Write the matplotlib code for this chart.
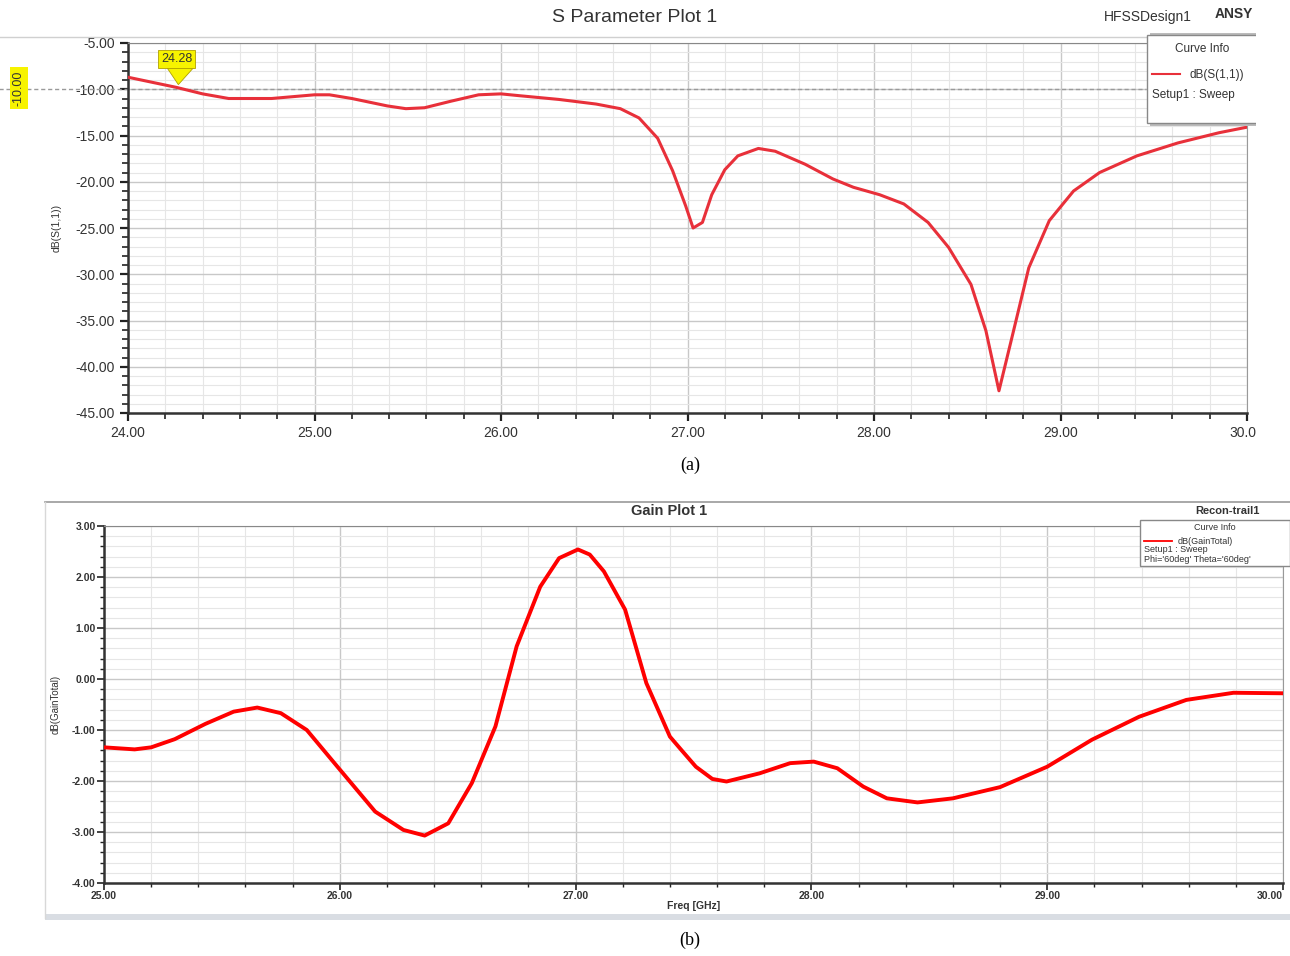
import numpy as np
import matplotlib.pyplot as plt
import matplotlib as mpl
from matplotlib.patches import Rectangle, Polygon
from matplotlib.lines import Line2D

# ---------------- data ----------------
S11_FREQ = [24.00, 24.26, 24.40, 24.54, 24.77, 25.00, 25.08, 25.20, 25.39, 25.49,
            25.59, 25.73, 25.88, 26.00, 26.10, 26.31, 26.51, 26.64, 26.74, 26.84,
            26.92, 26.99, 27.03, 27.08, 27.13, 27.20, 27.27, 27.38, 27.47, 27.63,
            27.78, 27.89, 28.03, 28.16, 28.29, 28.40, 28.52, 28.60, 28.67, 28.74,
            28.83, 28.94, 29.07, 29.21, 29.41, 29.63, 29.85, 30.00]
S11_DB = [-8.7, -9.8, -10.5, -11.0, -11.0, -10.6, -10.6, -11.0, -11.8, -12.1,
          -12.0, -11.3, -10.6, -10.5, -10.7, -11.1, -11.6, -12.1, -13.1, -15.3,
          -18.8, -22.6, -25.0, -24.4, -21.4, -18.7, -17.2, -16.4, -16.7, -18.1,
          -19.7, -20.6, -21.4, -22.4, -24.4, -27.1, -31.1, -36.1, -42.6, -36.8,
          -29.3, -24.2, -21.0, -19.0, -17.2, -15.8, -14.7, -14.1]

GAIN_FREQ = [25.00, 25.13, 25.20, 25.30, 25.43, 25.55, 25.65, 25.75, 25.86, 25.99,
             26.15, 26.27, 26.36, 26.46, 26.56, 26.66, 26.75, 26.85, 26.93, 27.01,
             27.06, 27.12, 27.21, 27.30, 27.40, 27.45, 27.51, 27.58, 27.64, 27.78,
             27.91, 28.01, 28.11, 28.22, 28.32, 28.45, 28.60, 28.80, 29.00, 29.19,
             29.39, 29.59, 29.79, 30.00]
GAIN_DB = [-1.34, -1.38, -1.34, -1.18, -0.88, -0.64, -0.56, -0.67, -1.00, -1.72,
           -2.60, -2.96, -3.07, -2.83, -2.04, -0.93, 0.64, 1.81, 2.37, 2.54,
           2.44, 2.11, 1.36, -0.08, -1.13, -1.40, -1.72, -1.96, -2.01, -1.85,
           -1.65, -1.62, -1.75, -2.11, -2.34, -2.42, -2.34, -2.12, -1.72, -1.19,
           -0.74, -0.41, -0.27, -0.28]

MARKER_FREQ = 24.28
MARKER_DB = -10.0

S11_XTICKS = [24, 25, 26, 27, 28, 29, 30]
S11_YTICKS = [-5, -10, -15, -20, -25, -30, -35, -40, -45]
GAIN_XTICKS = [25, 26, 27, 28, 29, 30]
GAIN_YTICKS = [3, 2, 1, 0, -1, -2, -3, -4]

# ---------------- style ----------------
W, H = 1290, 956
NARROW = ["Liberation Sans Narrow", "Liberation Sans", "DejaVu Sans"]
SANS = ["Liberation Sans", "DejaVu Sans"]
SERIF = ["Liberation Serif", "DejaVu Serif"]
TXT = "#333333"
GRID_MAJ = "#c8c8c8"
GRID_MIN = "#e6e6e6"

mpl.rcParams["font.family"] = SANS


def fx(x):
    return x / W


def fy(y):
    return 1 - y / H


def style_axes(ax, tick_font, tick_size, bold):
    ax.grid(which="major", color=GRID_MAJ, linewidth=1.0)
    ax.grid(which="minor", color=GRID_MIN, linewidth=0.8)
    ax.set_axisbelow(True)
    ax.tick_params(which="major", direction="out", length=6, width=1.6,
                   color="#222222", labelsize=tick_size, labelcolor=TXT)
    ax.tick_params(which="minor", direction="out", length=4, width=1.2,
                   color="#222222")
    for lab in ax.get_xticklabels() + ax.get_yticklabels():
        lab.set_family(tick_font)
        if bold:
            lab.set_fontweight("bold")
    ax.spines["left"].set_linewidth(1.8)
    ax.spines["bottom"].set_linewidth(1.8)
    ax.spines["left"].set_color("#333333")
    ax.spines["bottom"].set_color("#333333")
    ax.spines["top"].set_color("#888888")
    ax.spines["right"].set_color("#999999")
    ax.spines["right"].set_linewidth(0.8)


fig = plt.figure(figsize=(W / 100, H / 100), dpi=100)

# ================= (a) S parameter =================
ax1 = fig.add_axes([fx(128), fy(413), fx(1247) - fx(128), fy(43) - fy(413)])
ax1.plot(S11_FREQ, S11_DB, color="#e8303a", linewidth=2.2, zorder=3,
         solid_joinstyle="round", solid_capstyle="round")
ax1.set_xlim(24, 30)
ax1.set_ylim(-45, -5)
ax1.set_xticks(S11_XTICKS)
ax1.set_xticklabels(["%.2f" % v for v in S11_XTICKS])
ax1.set_xticks(np.arange(24, 30.01, 0.2), minor=True)
ax1.set_yticks(S11_YTICKS)
ax1.set_yticklabels(["%.2f" % v for v in S11_YTICKS])
ax1.set_yticks(np.arange(-45, -4.9, 1.0), minor=True)
style_axes(ax1, NARROW, 10, False)
ax1.set_ylabel("dB(S(1,1))", fontsize=7.5, family=NARROW, color=TXT, labelpad=10)

# -10 dB reference line running into the left margin
ax1.plot([23.31, 29.46], [MARKER_DB, MARKER_DB], linestyle=(0, (3, 2)),
         color="#9a9a9a", linewidth=1.0, clip_on=False, zorder=2)

# marker flag
ax1.add_patch(Polygon([(MARKER_FREQ - 0.07, -7.7), (MARKER_FREQ + 0.07, -7.7),
                       (MARKER_FREQ - 0.01, MARKER_DB + 0.5)],
                      closed=True, fc="#f7f300", ec="#b0a000", lw=0.6,
                      zorder=5, clip_on=False))
ax1.text(MARKER_FREQ - 0.02, -6.75, "24.28", ha="center", va="center",
         fontsize=9, family=NARROW, color=TXT, zorder=6,
         bbox=dict(boxstyle="square,pad=0.25", fc="#f7f300", ec="#b0a000", lw=0.6))

fig.text(fx(19), fy(88), "-10.00", rotation=90, ha="center", va="center",
         fontsize=9, family=NARROW, color=TXT,
         bbox=dict(boxstyle="square,pad=0.25", fc="#f7f300", ec="none"))

fig.text(fx(635), fy(18), "S Parameter Plot 1", ha="center", va="center",
         fontsize=14, color=TXT)
fig.text(fx(1148), fy(17), "HFSSDesign1", ha="center", va="center",
         fontsize=10, family=NARROW, color=TXT)
fig.text(fx(1215), fy(14), "ANSY", ha="left", va="center",
         fontsize=10, family=NARROW, color=TXT, fontweight="bold")
fig.add_artist(Line2D([0, 1], [fy(37), fy(37)], color="#d0d0d0", linewidth=1.0))

# curve info box (a)
fig.add_artist(Rectangle((fx(1150), fy(126)), fx(1258) - fx(1150), fy(33) - fy(126),
                         fc="#bbbbbb", ec="none", zorder=8))
fig.add_artist(Rectangle((fx(1147), fy(123)), fx(1258) - fx(1147), fy(35) - fy(123),
                         fc="white", ec="#888888", lw=1.0, zorder=9))
fig.text(fx(1202), fy(49), "Curve Info", ha="center", va="center",
         fontsize=8.5, family=NARROW, color=TXT, zorder=10)
fig.add_artist(Line2D([fx(1152), fx(1180)], [fy(74), fy(74)], color="#e8303a",
                      linewidth=1.5, zorder=10))
fig.text(fx(1190), fy(75), "dB(S(1,1))", ha="left", va="center",
         fontsize=8.5, family=NARROW, color=TXT, zorder=10)
fig.text(fx(1152), fy(95), "Setup1 : Sweep", ha="left", va="center",
         fontsize=8.5, family=NARROW, color=TXT, zorder=10)

# screenshot edge cut-off on the right of panel (a)
fig.add_artist(Rectangle((fx(1256), fy(470)), 1 - fx(1256), fy(0) - fy(470),
                         fc="white", ec="none", zorder=11))

fig.text(fx(690), fy(465), "(a)", ha="center", va="center", fontsize=13,
         family=SERIF, color="black")

# ================= (b) Gain =================
ax2 = fig.add_axes([fx(104), fy(883), fx(1283) - fx(104), fy(526) - fy(883)])
ax2.plot(GAIN_FREQ, GAIN_DB, color="#ff0000", linewidth=2.8, zorder=3,
         solid_joinstyle="round", solid_capstyle="round")
ax2.set_xlim(25, 30)
ax2.set_ylim(-4, 3)
ax2.set_xticks(GAIN_XTICKS)
ax2.set_xticklabels(["%.2f" % v for v in GAIN_XTICKS])
ax2.set_xticks(np.arange(25, 30.01, 0.2), minor=True)
ax2.set_yticks(GAIN_YTICKS)
ax2.set_yticklabels(["%.2f" % v for v in GAIN_YTICKS])
ax2.set_yticks(np.arange(-4, 3.01, 0.2), minor=True)
style_axes(ax2, SANS, 7.5, True)
ax2.tick_params(which="major", length=5, width=1.2, pad=1)
ax2.tick_params(which="minor", length=3, width=1.0)
ax2.get_xticklabels()[-1].set_horizontalalignment("right")
ax2.set_ylabel("dB(GainTotal)", fontsize=7, color=TXT, labelpad=8)
ax2.set_xlabel("Freq [GHz]", fontsize=7.5, fontweight="bold", color=TXT, labelpad=0)

# panel frame
fig.add_artist(Line2D([fx(45), 1], [fy(502), fy(502)], color="#9a9a9a", linewidth=1.2))
fig.add_artist(Line2D([fx(45), fx(45)], [fy(502), fy(918)], color="#d8d8d8", linewidth=1.0))
fig.add_artist(Rectangle((fx(45), fy(920)), 1 - fx(45), fy(914) - fy(920),
                         fc="#d9dde3", ec="none"))
fig.text(fx(669), fy(511), "Gain Plot 1", ha="center", va="center",
         fontsize=10.5, fontweight="bold", color=TXT)
fig.text(fx(1227), fy(511), "Recon-trail1", ha="center", va="center",
         fontsize=8, fontweight="bold", color=TXT)

# curve info box (b)
fig.add_artist(Rectangle((fx(1140), fy(566)), 1 - fx(1140), fy(520) - fy(566),
                         fc="white", ec="#888888", lw=1.0, zorder=9))
fig.text(fx(1215), fy(528), "Curve Info", ha="center", va="center",
         fontsize=6.5, color=TXT, zorder=10)
fig.add_artist(Line2D([fx(1144), fx(1172)], [fy(541), fy(541)], color="#ff0000",
                      linewidth=1.3, zorder=10))
fig.text(fx(1178), fy(541), "dB(GainTotal)", ha="left", va="center",
         fontsize=6.5, color=TXT, zorder=10)
fig.text(fx(1144), fy(550), "Setup1 : Sweep", ha="left", va="center",
         fontsize=6.5, color=TXT, zorder=10)
fig.text(fx(1144), fy(559), "Phi='60deg' Theta='60deg'", ha="left", va="center",
         fontsize=6.5, color=TXT, zorder=10)

fig.text(fx(690), fy(940), "(b)", ha="center", va="center", fontsize=13,
         family=SERIF, color="black")

fig.savefig("out.png", dpi=100)
